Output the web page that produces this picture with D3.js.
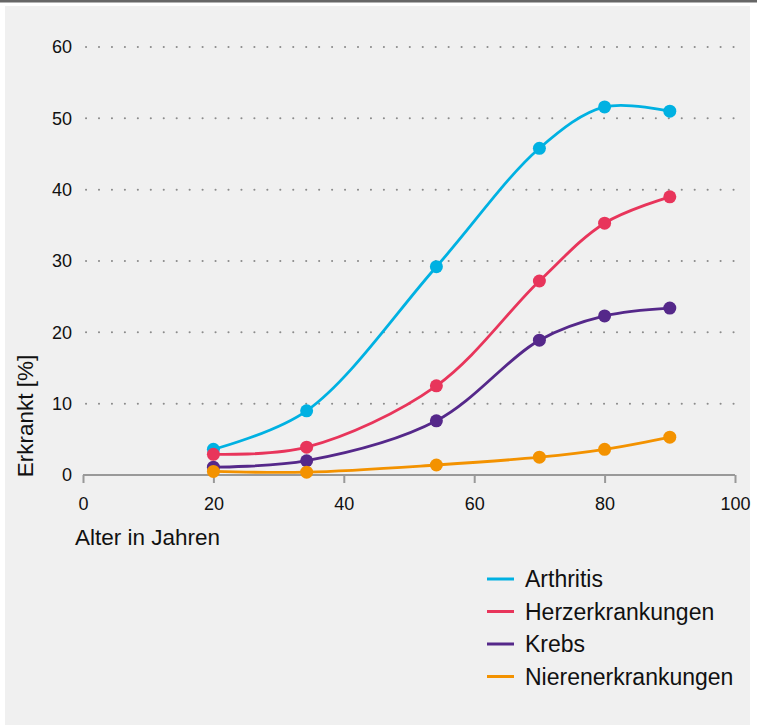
<!DOCTYPE html>
<html>
<head>
<meta charset="utf-8">
<script src="https://cdn.jsdelivr.net/npm/d3@7"></script>
<style>
  body { margin: 0; background: #fff; }
  svg { display: block; font-family: "Liberation Sans", Arial, sans-serif; }
</style>
</head>
<body>
<div id="chart"></div>
<script>
// Alter (Jahre) und Anteil erkrankt in Prozent
var ages = [20, 34.3, 54.2, 70, 80, 90];
var arthritis = [3.6, 9.0, 29.2, 45.8, 51.6, 51.0];
var herz = [2.9, 3.9, 12.5, 27.2, 35.3, 39.0];
var krebs = [1.1, 2.0, 7.6, 18.9, 22.3, 23.4];
var niere = [0.5, 0.4, 1.4, 2.5, 3.6, 5.3];

var seriesNames = ["Arthritis", "Herzerkrankungen", "Krebs", "Nierenerkrankungen"];
var seriesColors = ["#00b1e2", "#e8355b", "#55288a", "#f39200"];
var seriesValues = [arthritis, herz, krebs, niere];

var xTicks = [0, 20, 40, 60, 80, 100];
var yTicks = [0, 10, 20, 30, 40, 50, 60];

var W = 757, H = 725;
var margin = { top: 47, right: 22, bottom: 250, left: 83 };

var svg = d3.select("#chart").append("svg")
    .attr("width", W)
    .attr("height", H);

// Hintergrund
svg.append("rect").attr("x", 0).attr("y", 0).attr("width", W).attr("height", 2.5).attr("fill", "#666");
svg.append("rect").attr("x", 5).attr("y", 6).attr("width", 745).attr("height", H - 6).attr("fill", "#f0f0f0");

var x = d3.scaleLinear().domain([0, 100]).range([margin.left, 735]);
var y = d3.scaleLinear().domain([0, 60]).range([475, margin.top]);

// Gitterlinien (gepunktet)
svg.append("g")
    .selectAll("line")
    .data(yTicks.filter(function (d) { return d > 0; }))
    .enter()
    .append("line")
    .attr("x1", x(0) + 3)
    .attr("x2", x(100))
    .attr("y1", function (d) { return y(d); })
    .attr("y2", function (d) { return y(d); })
    .attr("stroke", "#8c8c8c")
    .attr("stroke-width", 2)
    .attr("stroke-linecap", "round")
    .attr("stroke-dasharray", "0.1 12.85");

// Y-Achse Beschriftungen
svg.append("g")
    .selectAll("text")
    .data(yTicks)
    .enter()
    .append("text")
    .attr("x", 72)
    .attr("y", function (d) { return y(d); })
    .attr("dy", "0.35em")
    .attr("text-anchor", "end")
    .attr("font-size", 18)
    .attr("fill", "#111")
    .text(function (d) { return d; });

// X-Achse
var xAxis = svg.append("g")
    .attr("transform", "translate(0," + y(0) + ")")
    .call(d3.axisBottom(x).tickValues(xTicks).tickSize(8).tickPadding(14));
xAxis.select(".domain").attr("stroke", "#999").attr("stroke-width", 2).attr("d", "M" + x(0) + ",0H" + x(100));
xAxis.selectAll(".tick line").attr("stroke", "#999").attr("stroke-width", 2);
xAxis.selectAll(".tick text")
    .attr("font-size", 18)
    .attr("font-family", "Liberation Sans, Arial, sans-serif")
    .attr("fill", "#111");

// Achsentitel
svg.append("text")
    .attr("x", 75)
    .attr("y", 545)
    .attr("font-size", 22.5)
    .attr("fill", "#111")
    .text("Alter in Jahren");

svg.append("text")
    .attr("transform", "translate(33,416) rotate(-90)")
    .attr("text-anchor", "middle")
    .attr("font-size", 22.5)
    .attr("fill", "#111")
    .text("Erkrankt [%]");

// Linien und Punkte
var line = d3.line()
    .x(function (d) { return x(d[0]); })
    .y(function (d) { return y(d[1]); })
    .curve(d3.curveCatmullRom.alpha(0.5));

seriesValues.forEach(function (vals, i) {
    var pts = ages.map(function (a, j) { return [a, vals[j]]; });
    var g = svg.append("g");
    g.append("path")
        .datum(pts)
        .attr("fill", "none")
        .attr("stroke", seriesColors[i])
        .attr("stroke-width", 2.8)
        .attr("d", line);
    g.selectAll("circle")
        .data(pts)
        .enter()
        .append("circle")
        .attr("cx", function (d) { return x(d[0]); })
        .attr("cy", function (d) { return y(d[1]); })
        .attr("r", 6.5)
        .attr("fill", seriesColors[i]);
});

// Legende
var legend = svg.append("g")
    .selectAll("g")
    .data(seriesNames)
    .enter()
    .append("g")
    .attr("transform", function (d, i) { return "translate(487," + (579 + i * 32.5) + ")"; });
legend.append("line")
    .attr("x1", 0).attr("x2", 27)
    .attr("stroke", function (d, i) { return seriesColors[i]; })
    .attr("stroke-width", 3);
legend.append("text")
    .attr("x", 38)
    .attr("dy", "0.35em")
    .attr("font-size", 23)
    .attr("fill", "#111")
    .text(function (d) { return d; });
</script>
</body>
</html>
